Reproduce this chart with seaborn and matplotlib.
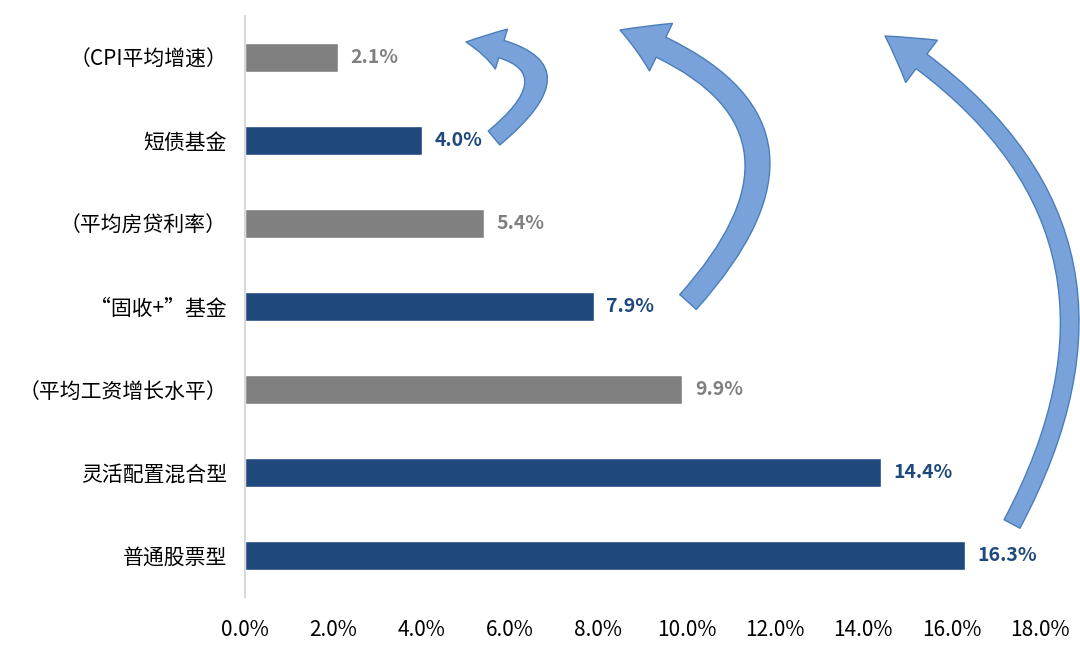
import matplotlib
matplotlib.use("Agg")
import matplotlib.pyplot as plt
import seaborn as sns
import pandas as pd
from matplotlib.patches import FancyArrowPatch
from matplotlib.ticker import FuncFormatter

categories = ["（CPI平均增速）", "短债基金", "（平均房贷利率）", "“固收+”基金",
              "（平均工资增长水平）", "灵活配置混合型", "普通股票型"]
values = [2.1, 4.0, 5.4, 7.9, 9.9, 14.4, 16.3]
kinds = ["ref", "fund", "ref", "fund", "ref", "fund", "fund"]
xticks = [0, 2, 4, 6, 8, 10, 12, 14, 16, 18]

BLUE = "#1F497D"
GRAY = "#808080"
color_map = {"ref": GRAY, "fund": BLUE}

sns.set_theme(style="white")
plt.rcParams['font.family'] = ['Noto Sans CJK SC', 'DejaVu Sans']

df = pd.DataFrame({"cat": categories, "val": values, "kind": kinds})

fig = plt.figure(figsize=(10.8, 6.55), dpi=100)
ax = fig.add_axes([245 / 1080, 1 - 597 / 655, (1040 - 245) / 1080, (597 - 16) / 655])

sns.barplot(data=df, x="val", y="cat", hue="cat",
            palette=[color_map[k] for k in kinds], orient="h",
            width=0.35, legend=False, ax=ax, saturation=1)

ax.set_xlim(0, 18)
ax.set_ylim(6.5, -0.5)
ax.set_xticks(xticks)
ax.xaxis.set_major_formatter(FuncFormatter(lambda v, p: f"{v:.1f}%"))
ax.tick_params(axis="x", length=0, pad=16, labelsize=15, colors="#000000")
ax.tick_params(axis="y", length=0, pad=13, labelsize=15, colors="#000000")
ax.set_xlabel("")
ax.set_ylabel("")
for s in ["top", "right", "bottom"]:
    ax.spines[s].set_visible(False)
ax.spines["left"].set_color("#D9D9D9")
ax.spines["left"].set_linewidth(1.5)

for i, (v, k) in enumerate(zip(values, kinds)):
    ax.annotate(f"{v:.1f}%", xy=(v, i), xytext=(9, 0), textcoords="offset points",
                va="center", ha="left", fontsize=14, fontweight="bold",
                color=color_map[k])

# decorative curved arrows (figure pixel coords -> fraction)
def fp(x, y):
    return (x / 1080, 1 - y / 655)

arrows = [
    ((494, 138), (466, 42), 1.15, 13, 30, 26),
    ((688, 302), (620, 30), 0.74, 16, 38, 32),
    ((1012, 524), (885, 36), 0.46, 13, 38, 32),
]
for a, b, rad, tw, hw, hl in arrows:
    p = FancyArrowPatch(fp(*a), fp(*b), transform=fig.transFigure,
                        connectionstyle=f"arc3,rad={rad}",
                        arrowstyle=f"simple,head_length={hl},head_width={hw},tail_width={tw}",
                        mutation_scale=1, facecolor="#79A2DA", edgecolor="#4A7EBB",
                        linewidth=1.0, zorder=5, shrinkA=0, shrinkB=0)
    fig.patches.append(p)

fig.savefig("out.png", dpi=100)
